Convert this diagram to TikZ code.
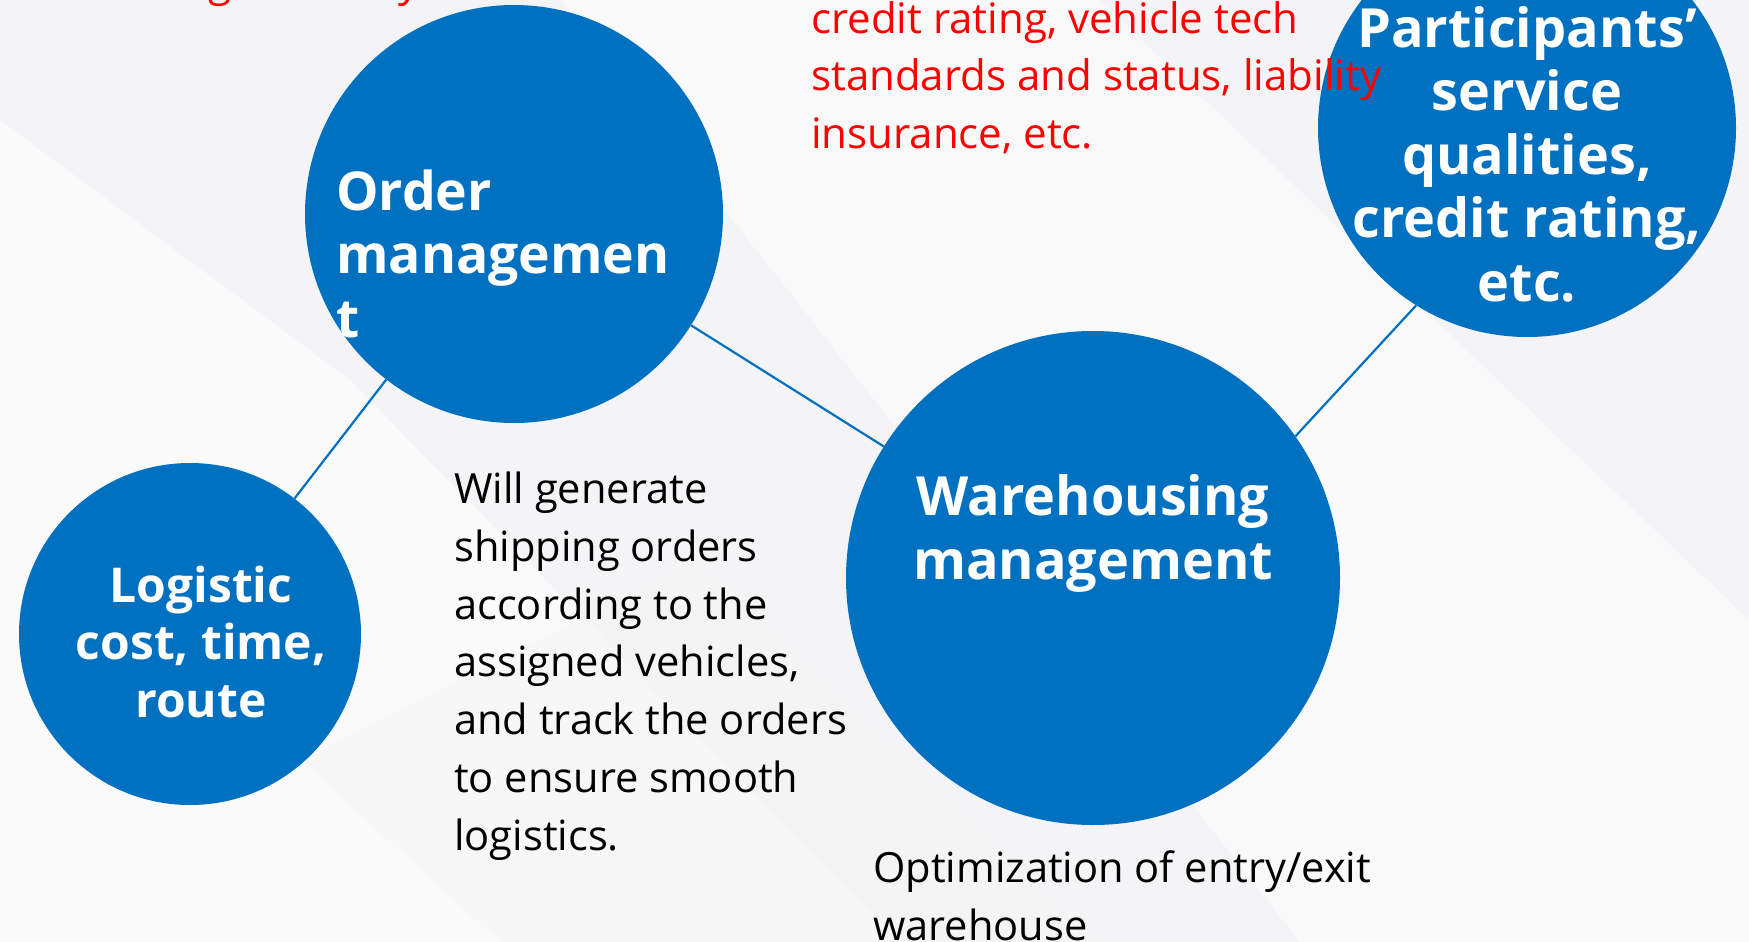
\documentclass[tikz,border=0pt]{standalone}
\usepackage{fontspec}
\setmainfont{Open Sans}
\definecolor{cblue}{RGB}{0,112,192}
\definecolor{bgg}{RGB}{244,244,246}
\begin{document}
\begin{tikzpicture}[x=1pt,y=-1pt,
  bubble/.style={circle,fill=cblue,inner sep=0pt},
  link/.style={draw=cblue,line width=2.2pt},
  btxt/.style={text=white,font=\fontsize{54}{63.5}\selectfont\bfseries,inner sep=0pt},
  bodytxt/.style={text=black,font=\fontsize{41.6}{57.7}\selectfont,inner sep=0pt,align=left},
  redtxt/.style={text=red,font=\fontsize{42}{57.5}\selectfont,inner sep=0pt,align=left}]
\useasboundingbox (0,0) rectangle (1749,942);
\fill[bgg] (0,0) rectangle (1749,942);
\fill[white,opacity=0.55] (0,120) -- (350,380) -- (900,942) -- (0,942) -- cycle;
\fill[white,opacity=0.5] (560,0) -- (1100,0) -- (1749,620) -- (1749,942) -- (1300,942) -- cycle;
\fill[black!4,opacity=0.6] (300,760) -- (700,560) -- (1100,942) -- (500,942) -- cycle;
% circles
\node[bubble,minimum size=418pt] (ord) at (514,214) {};
\node[bubble,minimum size=342pt] (log) at (190,634) {};
\node[bubble,minimum size=494pt] (ware) at (1093,578) {};
\node[bubble,minimum size=418pt] (part) at (1527,128) {};
% connectors
\draw[link] (log) -- (ord);
\draw[link] (ord) -- (ware);
\draw[link] (ware.35) -- (part.238);
% bubble texts (anchor = baseline of last line)
\node[btxt,anchor=base west,align=left,font=\fontsize{53.5}{63.5}\selectfont\bfseries] (ordt) at (336,337) {Order\\managemen\\t};
\node[btxt,anchor=base,align=center,font=\fontsize{48}{57.5}\selectfont\bfseries] (logt) at (201,717) {Logistic\\cost, time,\\route};
\node[btxt,anchor=base,align=center] (waret) at (1093,579) {Warehousing\\management};
\node[btxt,anchor=base,align=center] (partt) at (1527,301) {Participants’\\service\\qualities,\\credit rating,\\etc.};
% plain texts
\node[bodytxt,anchor=base west] (ship) at (454,850) {Will generate\\shipping orders\\according to the\\assigned vehicles,\\and track the orders\\to ensure smooth\\logistics.};
\node[bodytxt,anchor=base west] (opt) at (873,940) {Optimization of entry/exit\\warehouse};
\node[redtxt,anchor=base west] (cred) at (811,148) {credit rating, vehicle tech\\standards and status, liability\\insurance, etc.};
\node[redtxt,anchor=base west] (frg1) at (208,-3) {g};
\node[redtxt,anchor=base west] (frg2) at (398,-3) {y};
\end{tikzpicture}
\end{document}
